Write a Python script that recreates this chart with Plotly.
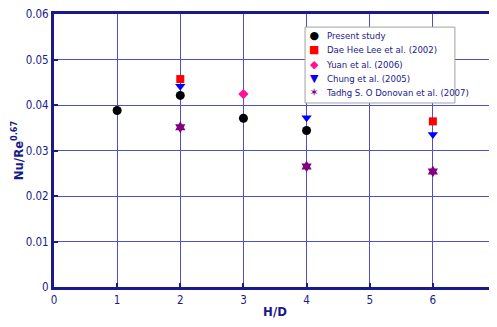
import plotly.graph_objects as go

hd_present = [1, 2, 3, 4]
nu_present = [0.0388, 0.0421, 0.0371, 0.0344]
hd_lee = [2, 6]
nu_lee = [0.0457, 0.0364]
hd_yuan = [3]
nu_yuan = [0.0424]
hd_chung = [2, 4, 6]
nu_chung = [0.0441, 0.0372, 0.0335]
hd_tadhg = [2, 4, 6]
nu_tadhg = [0.0351, 0.0265, 0.0254]

x_ticks = [0, 1, 2, 3, 4, 5, 6, 7]
x_labels = ["0", "1", "2", "3", "4", "5", "6", "7"]
y_ticks = [0, 0.01, 0.02, 0.03, 0.04, 0.05, 0.06]
y_labels = ["0", "0.01", "0.02", "0.03", "0.04", "0.05", "0.06"]

navy = "#1a1a8c"
font = "DejaVu Sans Condensed"

fig = go.Figure()
series = [
    ("Present study", hd_present, nu_present, "circle", "black", 9, "●"),
    ("Dae Hee Lee et al. (2002)", hd_lee, nu_lee, "square", "#ff0000", 8, "■"),
    ("Yuan et al. (2006)", hd_yuan, nu_yuan, "diamond", "#ff1493", 8, "◆"),
    ("Chung et al. (2005)", hd_chung, nu_chung, "triangle-down", "#0000ff", 9, "▼"),
    ("Tadhg S. O Donovan et al. (2007)", hd_tadhg, nu_tadhg, "hexagram", "#800080", 9, "✶"),
]
for name, x, y, sym, col, sz, glyph in series:
    fig.add_trace(go.Scatter(x=x, y=y, mode="markers", name=name, showlegend=False,
                             marker=dict(symbol=sym, color=col, size=sz)))

axis_common = dict(showline=True, linecolor=navy, linewidth=3, mirror=True,
                   showgrid=True, gridcolor="#5050c8", gridwidth=1,
                   ticks="inside", ticklen=4, tickcolor=navy, tickwidth=2,
                   zeroline=False, automargin=False, ticklabeloverflow="allow",
                   tickfont=dict(family=font, size=11.5, color=navy))
fig.update_xaxes(range=[0, 7], tickvals=x_ticks, ticktext=x_labels, **axis_common,
                 title=dict(text="<b>H/D</b>", font=dict(family=font, size=13, color=navy), standoff=2))
fig.update_yaxes(range=[0, 0.06], tickvals=y_ticks, ticktext=y_labels, **axis_common,
                 title=dict(text="<b>Nu/Re<sup>0.67</sup></b>", font=dict(family=font, size=13, color=navy), standoff=0))

# legend box built from the series list
fig.add_shape(type="rect", xref="paper", yref="paper", x0=0.568, x1=0.907, y0=0.674, y1=0.952,
              line=dict(color="#a0a0a0", width=1), fillcolor="white", layer="above")
sym_text = "<br>".join(f'<span style="color:{s[4]}">{s[6]}</span>' for s in series)
name_text = "<br>".join(f'<span style="font-size:9.5px">{s[0]}</span>' for s in series)
fig.add_annotation(xref="paper", yref="paper", x=0.588, y=0.817, xanchor="center", yanchor="middle",
                   text=sym_text, showarrow=False, align="center",
                   font=dict(family="DejaVu Sans", size=11, color=navy))
fig.add_annotation(xref="paper", yref="paper", x=0.611, y=0.817, xanchor="left", yanchor="middle",
                   text=name_text, showarrow=False, align="left",
                   font=dict(family=font, size=11, color=navy))

fig.update_layout(
    width=489, height=319,
    margin=dict(l=46, r=1, t=6, b=40),
    plot_bgcolor="white", paper_bgcolor="white",
    showlegend=False,
)
fig.write_html("out.html")
